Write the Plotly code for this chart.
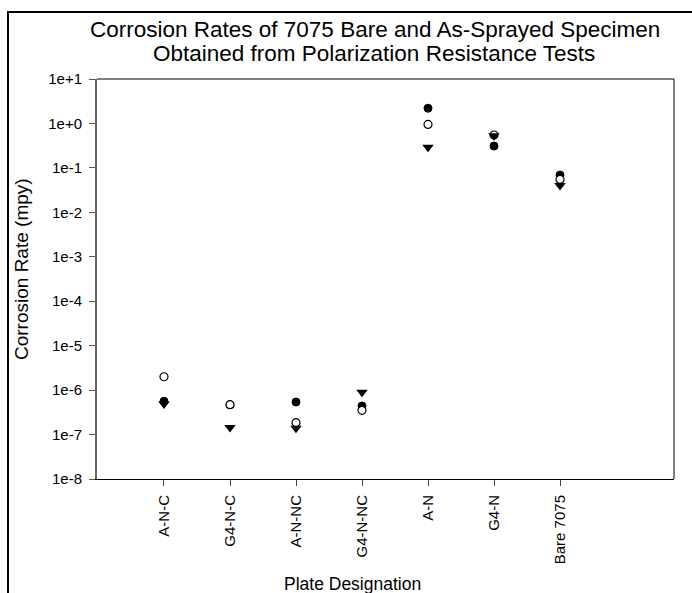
import plotly.graph_objects as go

categories = ["A-N-C", "G4-N-C", "A-N-NC", "G4-N-NC", "A-N", "G4-N", "Bare 7075"]
series_filled = [5.6e-7, 4.7e-7, 5.4e-7, 4.4e-7, 2.2, 0.31, 0.069]
series_open = [2.0e-6, 4.7e-7, 1.85e-7, 3.5e-7, 0.95, 0.55, 0.055]
series_tri = [4.9e-7, 1.45e-7, 1.38e-7, 8.9e-7, 0.29, 0.53, 0.040]
y_tickvals = [1e-8, 1e-7, 1e-6, 1e-5, 1e-4, 1e-3, 1e-2, 1e-1, 1e0, 1e1]
y_ticktext = ["1e-8", "1e-7", "1e-6", "1e-5", "1e-4", "1e-3", "1e-2", "1e-1", "1e+0", "1e+1"]

FONT = "Liberation Sans, Arial, sans-serif"

fig = go.Figure()
fig.add_trace(go.Scatter(x=categories, y=series_filled, mode="markers",
                         marker=dict(symbol="circle", size=8, color="black",
                                     line=dict(color="black", width=1)),
                         showlegend=False))
fig.add_trace(go.Scatter(x=categories, y=series_open, mode="markers",
                         marker=dict(symbol="circle", size=8, color="white",
                                     line=dict(color="black", width=1.2)),
                         showlegend=False))
fig.add_trace(go.Scatter(x=categories, y=series_tri, mode="markers",
                         marker=dict(symbol="triangle-down", size=10, color="black",
                                     line=dict(color="black", width=0)),
                         showlegend=False))

L, R, T, B = 97, 18, 79, 114
W, H = 692, 593
PW, PH = W - L - R, H - T - B

def px(x):
    return (x - L) / PW

def py(y):
    return (H - B - y) / PH

fig.update_layout(
    width=W, height=H,
    margin=dict(l=L, r=R, t=T, b=B, pad=0),
    paper_bgcolor="white", plot_bgcolor="white",
    font=dict(family=FONT, color="black", size=15),
    xaxis=dict(type="category", range=[-1.015, 7.727], showgrid=False, zeroline=False,
               showline=True, linecolor="black", linewidth=1,
               ticks="outside", ticklen=6, tickcolor="#444", tickangle=-90,
               tickfont=dict(size=15, family=FONT, color="black"), ticklabelstandoff=3),
    yaxis=dict(type="log", range=[-8, 1], showgrid=False, zeroline=False,
               showline=True, linecolor="#666", linewidth=2,
               ticks="outside", ticklen=6, tickcolor="#555",
               tickvals=y_tickvals, ticktext=y_ticktext,
               tickfont=dict(size=15, family=FONT, color="black"), ticklabelstandoff=4),
    shapes=[
        dict(type="line", xref="paper", yref="paper", x0=0, x1=1, y0=1, y1=1,
             line=dict(color="black", width=1)),
        dict(type="line", xref="paper", yref="paper", x0=1, x1=1, y0=0, y1=1,
             line=dict(color="black", width=1)),
        dict(type="path", xref="paper", yref="paper",
             path=f"M {px(8)},{py(700)} L {px(8)},{py(12)} L {px(800)},{py(12)}",
             line=dict(color="black", width=2)),
    ],
    annotations=[
        dict(text="Corrosion Rates of 7075 Bare and As-Sprayed Specimen",
             xref="paper", yref="paper", x=px(375), y=py(29), xanchor="center", yanchor="middle",
             showarrow=False, font=dict(size=22.5, family=FONT, color="black")),
        dict(text="Obtained from Polarization Resistance Tests",
             xref="paper", yref="paper", x=px(374), y=py(53), xanchor="center", yanchor="middle",
             showarrow=False, font=dict(size=22.5, family=FONT, color="black")),
        dict(text="Corrosion Rate (mpy)", textangle=-90,
             xref="paper", yref="paper", x=px(21), y=py(269), xanchor="center", yanchor="middle",
             showarrow=False, font=dict(size=19, family=FONT, color="black")),
        dict(text="Plate Designation",
             xref="paper", yref="paper", x=px(352), y=py(584), xanchor="center", yanchor="middle",
             showarrow=False, font=dict(size=17.5, family=FONT, color="black")),
    ],
)

fig.write_html("out.html")
